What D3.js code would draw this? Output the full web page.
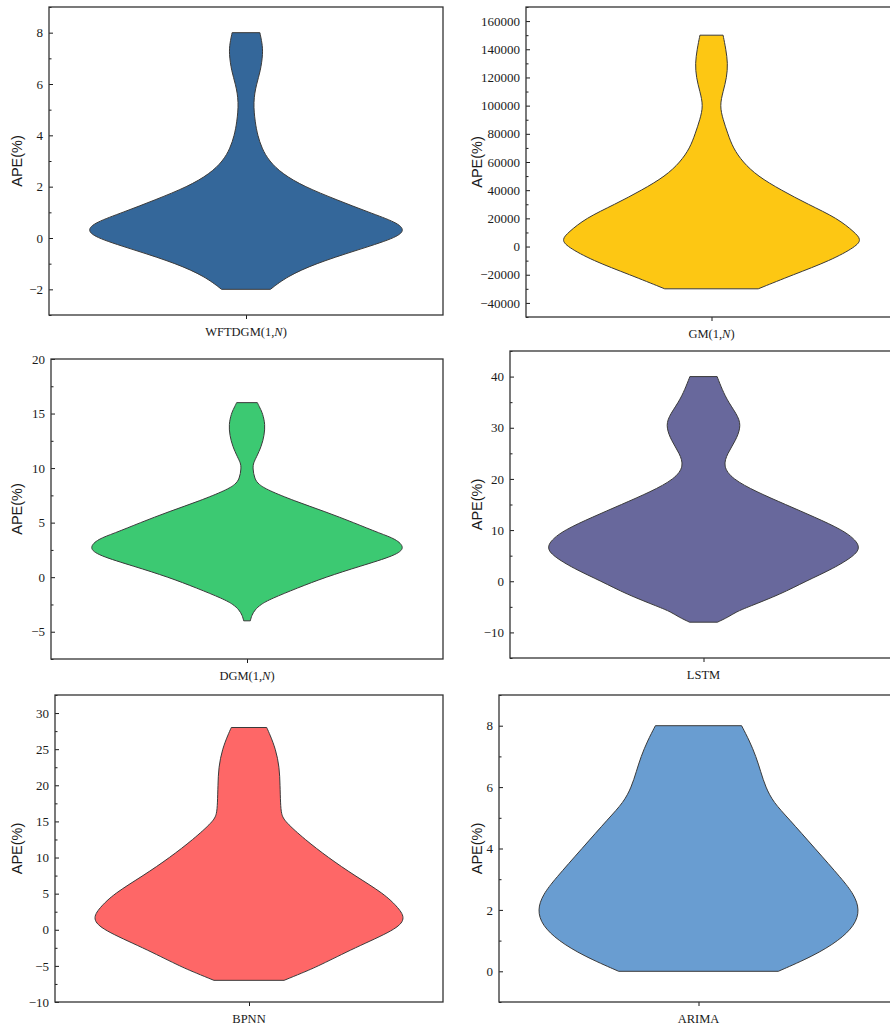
<!DOCTYPE html>
<html>
<head>
<meta charset="utf-8">
<script src="https://cdn.jsdelivr.net/npm/d3@7"></script>
<style>
  html, body { margin: 0; padding: 0; background: #fff; }
  svg { display: block; }
</style>
</head>
<body>
<svg id="chart" width="890" height="1026"></svg>
<script>
// Model names shown under each violin
const models = ["WFTDGM(1,N)", "GM(1,N)", "DGM(1,N)", "LSTM", "BPNN", "ARIMA"];

// Kernel density profiles: APE levels (%) and relative density (1 = widest point)
const apeWFTDGM  = [-2, -1.5, -1, -0.5, 0, 0.3, 0.6, 1, 1.5, 2, 2.5, 3, 3.5, 4, 4.5, 5.3, 6, 6.5, 7.2, 7.6, 8];
const densWFTDGM = [0.155, 0.26, 0.44, 0.69, 0.95, 1.01, 0.96, 0.78, 0.57, 0.37, 0.23, 0.146, 0.1, 0.074, 0.058, 0.045, 0.066, 0.092, 0.108, 0.102, 0.088];

const apeGM  = [-30000, -20000, -10000, 0, 5000, 10000, 20000, 30000, 40000, 50000, 60000, 70000, 80000, 90000, 100000, 110000, 120000, 130000, 140000, 150000];
const densGM = [0.315, 0.55, 0.8, 0.975, 1.01, 0.965, 0.85, 0.65, 0.47, 0.31, 0.21, 0.145, 0.11, 0.078, 0.055, 0.078, 0.103, 0.11, 0.097, 0.078];

const apeDGM  = [-4, -3.5, -3, -2.5, -2, -1, 0, 1, 2, 2.7, 3.5, 4, 5, 6, 7, 8, 8.5, 9, 10, 10.5, 11, 12, 13, 14, 15, 15.5, 16];
const densDGM = [0.021, 0.03, 0.05, 0.087, 0.15, 0.32, 0.5, 0.72, 0.95, 1.01, 0.95, 0.85, 0.68, 0.5, 0.3, 0.13, 0.075, 0.048, 0.036, 0.042, 0.06, 0.092, 0.11, 0.116, 0.1, 0.083, 0.066];

const apeLSTM  = [-8, -7, -6, -5, -2.5, 0, 2.5, 5, 6.5, 8, 10, 12.5, 15, 17.5, 20, 22.5, 25, 27.5, 30, 32, 35, 37.5, 40];
const densLSTM = [0.09, 0.16, 0.21, 0.29, 0.5, 0.66, 0.84, 0.975, 1.01, 0.985, 0.9, 0.72, 0.53, 0.34, 0.185, 0.125, 0.155, 0.208, 0.24, 0.23, 0.16, 0.12, 0.088];

const apeBPNN  = [-7, -6, -5, -2.5, 0, 1.5, 3, 5, 7.5, 10, 12.5, 15, 16, 17.5, 20, 22.5, 25, 27, 28];
const densBPNN = [0.226, 0.34, 0.45, 0.68, 0.945, 1.01, 0.965, 0.87, 0.68, 0.51, 0.36, 0.23, 0.208, 0.203, 0.2, 0.196, 0.172, 0.135, 0.114];

const apeARIMA  = [0, 0.5, 1, 1.5, 2, 2.5, 3, 4, 5, 5.5, 6, 6.5, 7, 7.5, 8];
const densARIMA = [0.5, 0.72, 0.88, 0.98, 1.01, 0.975, 0.9, 0.73, 0.56, 0.47, 0.42, 0.39, 0.36, 0.32, 0.27];

// Major tick values of each APE axis
const ticksWFTDGM = [-2, 0, 2, 4, 6, 8];
const ticksGM     = [-40000, -20000, 0, 20000, 40000, 60000, 80000, 100000, 120000, 140000, 160000];
const ticksDGM    = [-5, 0, 5, 10, 15, 20];
const ticksLSTM   = [-10, 0, 10, 20, 30, 40];
const ticksBPNN   = [-10, -5, 0, 5, 10, 15, 20, 25, 30];
const ticksARIMA  = [0, 2, 4, 6, 8];

// Panel layout and styling
const panels = [
  { name: models[0], ape: apeWFTDGM, dens: densWFTDGM, ticks: ticksWFTDGM, minor: 1,     domain: [-3, 9],          box: [49, 7, 443, 315],    fill: "#34679a", col: 0 },
  { name: models[1], ape: apeGM,     dens: densGM,     ticks: ticksGM,     minor: 10000, domain: [-50000, 170000], box: [526, 7, 897, 317],   fill: "#fdc713", col: 1 },
  { name: models[2], ape: apeDGM,    dens: densDGM,    ticks: ticksDGM,    minor: 2.5,   domain: [-7.5, 20],       box: [51, 359, 443, 659],  fill: "#3cc972", col: 0 },
  { name: models[3], ape: apeLSTM,   dens: densLSTM,   ticks: ticksLSTM,   minor: 5,     domain: [-15, 45],        box: [510, 351, 897, 658], fill: "#68689c", col: 1 },
  { name: models[4], ape: apeBPNN,   dens: densBPNN,   ticks: ticksBPNN,   minor: 2.5,   domain: [-10, 32.5],      box: [55, 695, 443, 1002], fill: "#fe6767", col: 0 },
  { name: models[5], ape: apeARIMA,  dens: densARIMA,  ticks: ticksARIMA,  minor: 1,     domain: [-1, 9],          box: [499, 695, 898, 1002],fill: "#699dd1", col: 1 }
];

const svg = d3.select("#chart");
const serif = "'Liberation Serif', 'Times New Roman', serif";
const sans = "'Liberation Sans', Arial, sans-serif";
const ink = "#1a1a1a";
const titleX = [22, 482];

panels.forEach(p => {
  const [L, T, R, B] = p.box;
  const g = svg.append("g");

  const y = d3.scaleLinear().domain(p.domain).range([B, T]);
  const x = d3.scaleLinear().domain([-1.25, 1.25]).range([L, R]);

  // violin body, smoothed along the APE axis
  const pts = p.ape.map((v, i) => ({ v, w: p.dens[i] }));
  const area = d3.area()
    .curve(d3.curveBasis)
    .y(d => y(d.v))
    .x0(d => x(-d.w))
    .x1(d => x(d.w));
  g.append("path")
    .datum(pts)
    .attr("d", area)
    .attr("fill", p.fill)
    .attr("stroke", "#3a3a3a")
    .attr("stroke-width", 1)
    .attr("stroke-linejoin", "round");

  // minor ticks (inward)
  const eps = 1e-9;
  const minorVals = d3.range(p.domain[0], p.domain[1] + eps, p.minor)
    .filter(v => !p.ticks.some(t => Math.abs(t - v) < p.minor * 0.01));
  const minorAxis = d3.axisLeft(y).tickValues(minorVals).tickSize(-2.5).tickFormat("");
  g.append("g").attr("transform", `translate(${L},0)`).call(minorAxis)
    .call(s => s.select(".domain").remove())
    .call(s => s.selectAll("line").attr("stroke", ink).attr("stroke-width", 1));

  // major ticks (inward) with labels
  const majorAxis = d3.axisLeft(y).tickValues(p.ticks).tickSize(-4).tickPadding(6).tickFormat(d3.format("d"));
  g.append("g").attr("transform", `translate(${L},0)`).call(majorAxis)
    .call(s => s.select(".domain").remove())
    .call(s => s.selectAll("line").attr("stroke", ink).attr("stroke-width", 1))
    .call(s => s.selectAll("text")
      .attr("font-family", serif)
      .attr("font-size", 13)
      .attr("fill", ink));

  // category axis (single tick, outward)
  const xc = d3.scalePoint().domain([p.name]).range([L, R]).padding(0.5);
  const catAxis = d3.axisBottom(xc).tickSize(4).tickFormat("");
  g.append("g").attr("transform", `translate(0,${B})`).call(catAxis)
    .call(s => s.select(".domain").remove())
    .call(s => s.selectAll("line").attr("stroke", ink).attr("stroke-width", 1));

  // category label; the N in "(1,N)" is italic
  const lab = g.append("text")
    .attr("x", xc(p.name))
    .attr("y", B + 21)
    .attr("text-anchor", "middle")
    .attr("font-family", serif)
    .attr("font-size", 12.5)
    .attr("fill", ink);
  const m = p.name.match(/^(.*,)(N)(\))$/);
  if (m) {
    lab.append("tspan").text(m[1]);
    lab.append("tspan").attr("font-style", "italic").text(m[2]);
    lab.append("tspan").text(m[3]);
  } else {
    lab.text(p.name);
  }

  // frame
  g.append("rect")
    .attr("x", L).attr("y", T)
    .attr("width", R - L).attr("height", B - T)
    .attr("fill", "none")
    .attr("stroke", "#333")
    .attr("stroke-width", 1.3);

  // y title
  const tx = titleX[p.col];
  const ty = (T + B) / 2;
  g.append("text")
    .attr("transform", `translate(${tx},${ty}) rotate(-90)`)
    .attr("text-anchor", "middle")
    .attr("font-family", sans)
    .attr("font-size", 14.5)
    .attr("fill", ink)
    .text("APE(%)");
});
</script>
</body>
</html>
